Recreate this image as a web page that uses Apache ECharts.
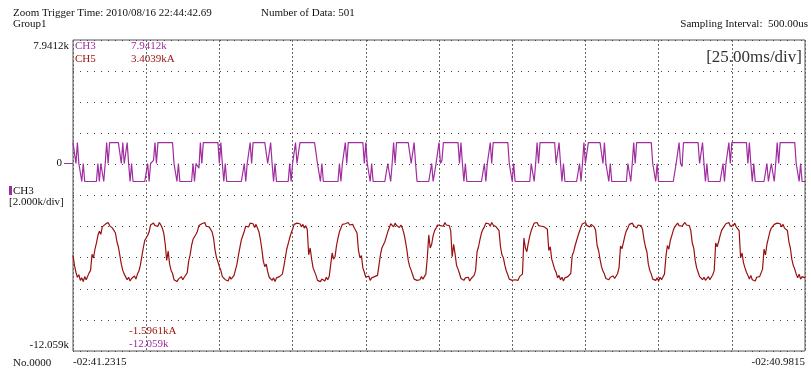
<!DOCTYPE html>
<html>
<head>
<meta charset="utf-8">
<script src="https://cdn.jsdelivr.net/npm/echarts@6/dist/echarts.min.js"></script>
<style>html,body{margin:0;padding:0;background:#fff}#c{width:811px;height:376px}</style>
</head>
<body>
<div id="c"></div>
<script>
// ---- data (k / kA units), 501 samples at 500us ----
const ch3 = [
 1.34,1.34, 0,1.34,0,0,-1.16,0, -1.16,-1.16,-1.16,-1.16,-1.16,-1.16,-1.16,-1.16,-1.16,0,-1.16, 0,0,-1.16,0,1.34,0,1.34,
 1.34,1.34,1.34,1.34,1.34,1.34,1.34,0,1.34, 0,0,1.34,0,-1.16,0, -1.16,-1.16,-1.16,-1.16,-1.16,-1.16,-1.16,-1.16,-1.16,-1.16, 0,-1.16,0,0,0.2,1.34,0,1.34,
 1.34,1.34,1.34,1.34,1.34,1.34,1.34,1.34,1.34, 1.34,0,0,-1.16,0,-1.16, -1.16,-1.16,-1.16,-1.16,-1.16,-1.16,-1.16,-1.16,0,-1.16, 0,0,-0.3,1.34,0,1.34,1.34,
 1.34,1.34,1.34,1.34,1.34,1.34,1.34,1.34,1.34, 0,1.34,0,-1.16,0,-1.16, -1.16,-1.16,-1.16,-1.16,-1.16,-1.16,-1.16,-1.16,-1.16,-1.16,-1.16, 0,-1.16,0,0,1.34,0,1.34,
 1.34,1.34,1.34,1.34,1.34,1.34,1.34,1.34,1.34, 0,0,1.34,0,-1.16,0, -1.16,-1.16,-1.16,-1.16,-1.16,-1.16,-1.16,-1.16,-1.16,0,-1.16, 0,0.1,1.34,0,0,1.34,1.34,
 1.34,1.34,1.34,1.34,1.34,1.34,1.34,1.34,1.34, 1.34,0,0,-1.16,0,-1.16, -1.16,-1.16,-1.16,-1.16,-1.16,-1.16,-1.16,-1.16,-1.16,-1.16, 0,-1.16,0,0,1.34,0,1.34,1.34,
 1.34,1.34,1.34,1.34,1.34,1.34,1.34,1.34,1.34, 0,1.34,0,0,-1.16,0, -1.16,-1.16,-1.16,-1.16,-1.16,-1.16,-1.16,-1.16,-1.16,-1.16, 0,0,-1.16,0,1.34,0,1.34,
 1.34,1.34,1.34,1.34,1.34,1.34,1.34,1.34,1.34, 0,0,1.34,0,-1.16,-1.16, -1.16,-1.16,-1.16,-1.16,-1.16,-1.16,-1.16,-1.16,0,-1.16,-1.16, 0,0,1.34,0,0.2,1.34,1.34,
 1.34,1.34,1.34,1.34,1.34,1.34,1.34,1.34,1.34, 0,1.34,0,-1.16,0,-1.16, -1.16,-1.16,-1.16,-1.16,-1.16,-1.16,-1.16,-1.16,-1.16,-1.16,-1.16, 0,-1.16,0,0,1.34,0,1.34,
 1.34,1.34,1.34,1.34,1.34,1.34,1.34,1.34,1.34, 1.34,0,0,-1.16,0,-1.16, -1.16,-1.16,-1.16,-1.16,-1.16,-1.16,-1.16,-1.16,-1.16,-1.16, 0,0,-1.16,0,1.34,0,1.34,1.34,
 1.34,1.34,1.34,1.34,1.34,1.34,1.34,1.34,1.34, 0,0,1.34,0,-1.16,0, -1.16,-1.16,-1.16,-1.16,-1.16,-1.16,-1.16,-1.16,-1.16,-1.16, 0,-1.16,0,1.34,0,0,1.34,
 1.34,1.34,1.34,1.34,1.34,1.34,1.34,1.34,1.34, 0,1.34,0,0,-1.16,0, -1.16,-1.16,-1.16,-1.16,-1.16,-1.16,-1.16,-1.16,-1.16,-1.16,-1.16, 0,0,-1.16,0,1.34,0,1.34,
 1.34,1.34,1.34,1.34,1.34,1.34,1.34,1.34,1.34, 1.34,0,0,-1.16,0,-1.16, -1.16,-1.16,-1.16,-1.16,-1.16,-1.16,-1.16,-1.16,-1.16,-1.16,-1.16, 0,0,1.34,0,-0.2,1.34,1.34,
 1.34,1.34,1.34,1.34,1.34,1.34,1.34,1.34,1.34, 0,0,1.34,0,-1.16,0, -1.16,-1.16,-1.16,-1.16,-1.16,-1.16,-1.16,-1.16,-1.16,-1.16, 0,-1.16,0,0,1.34,0,1.34,1.34,
 1.34,1.34,1.34,1.34,1.34,1.34,1.34,1.34,1.34, 0,1.34,0,-1.16,0,-1.16, -1.16,-1.16,-1.16,-1.16,-1.16,-1.16,-1.16,0,-1.16,-1.16, 0,0,-1.16,0,1.34,0,1.34,
 1.34,1.34,1.34,1.34,1.34,1.34,1.34,1.34,1.34, 1.34,0,0,-1.16,0,-1.16, -1.16,-1.16
];
const ch5 = [
 -0.06,-0.22, -0.33,-0.41,-0.37,-0.46,-0.42,-0.48,-0.40,-0.45,-0.43,-0.34, -0.30,-0.04,-0.10,0.04,0.14,0.26,0.33,
 0.28,0.40,0.37,0.44,0.41,0.47,0.42,0.45,0.38,0.40,0.30, 0.16,0.08,-0.06,-0.20,-0.30, -0.36,-0.37,-0.45,-0.41,-0.47,-0.43,-0.46,-0.39,-0.44,-0.36, -0.31,-0.22,-0.08,0.06,0.18,0.15,0.26,
 0.32,0.43,0.40,0.46,0.42,0.45,0.41,0.47,0.43,0.38,0.30, 0.12,-0.14,0.01,-0.20,-0.30, -0.35,-0.45,-0.42,-0.48,-0.44,-0.46,-0.40,-0.45,-0.41,-0.38, -0.34,-0.15,-0.05,0.10,0.20,0.17,0.28,
 0.33,0.42,0.39,0.45,0.43,0.47,0.41,0.44,0.40,0.42,0.32, 0.22,0.03,-0.09,-0.06,-0.24, -0.30,-0.40,-0.38,-0.45,-0.42,-0.47,-0.40,-0.44,-0.46,-0.38, -0.35,-0.20,-0.06,0.07,0.19,0.26,
 0.33,0.41,0.44,0.40,0.46,0.43,0.45,0.39,0.44,0.38,0.32, 0.20,0.04,-0.15,-0.24,-0.20, -0.32,-0.41,-0.38,-0.46,-0.42,-0.48,-0.42,-0.45,-0.40,-0.38, -0.36,-0.24,-0.10,0.04,0.13,0.22,0.30,
 0.36,0.44,0.41,0.46,0.43,0.45,0.40,0.44,0.38,0.42,0.36, -0.05,0.06,-0.12,-0.26,-0.32, -0.38,-0.46,-0.43,-0.48,-0.44,-0.42,-0.47,-0.41,-0.45,-0.40, -0.38,-0.02,-0.12,-0.08,0.10,0.22,0.32,
 0.38,0.44,0.41,0.45,0.42,0.47,0.43,0.40,0.44,0.39,0.36, 0.30,0.02,-0.10,-0.06,-0.26, -0.33,-0.41,-0.44,-0.39,-0.46,-0.42,-0.45,-0.40,-0.43,-0.38, -0.36,-0.05,0.06,0.04,0.16,0.24,0.32,
 0.38,0.45,0.43,0.40,0.46,0.42,0.44,0.39,0.43,0.38,0.30, 0.18,0.04,-0.14,-0.24,-0.30, -0.37,-0.44,-0.41,-0.46,-0.43,-0.45,-0.40,-0.44,-0.42,-0.36, -0.10,0.27,0.06,0.12,0.26,0.34,
 0.38,0.43,0.46,0.42,0.45,0.41,0.47,0.43,0.40,0.42,0.34, -0.08,0.12,-0.04,-0.22,-0.28, -0.35,-0.43,-0.40,-0.46,-0.42,-0.45,-0.41,-0.47,-0.43,-0.40, -0.38,-0.30,0.00,0.08,0.20,0.30,0.36,
 0.40,0.46,0.43,0.45,0.41,0.47,0.43,0.44,0.40,0.41,0.34, 0.08,-0.05,-0.10,-0.22,-0.31, -0.37,-0.44,-0.41,-0.46,-0.43,-0.45,-0.42,-0.46,-0.40,-0.40, -0.36,0.22,0.06,0.00,0.14,0.25,0.34,
 0.40,0.46,0.44,0.47,0.42,0.45,0.41,0.44,0.40,0.41,0.36, 0.02,0.08,-0.12,-0.20,-0.28, -0.33,-0.42,-0.38,-0.45,-0.41,-0.47,-0.42,-0.45,-0.40,-0.40, -0.35,-0.06,0.00,0.10,0.18,0.26,0.33,
 0.40,0.45,0.43,0.47,0.42,0.45,0.40,0.44,0.41,0.40,0.34, 0.10,0.02,-0.12,-0.24,-0.31, -0.36,-0.43,-0.40,-0.45,-0.41,-0.44,-0.39,-0.43,-0.41,-0.35, -0.25,0.09,0.05,0.15,0.26,0.34,
 0.38,0.44,0.41,0.46,0.42,0.45,0.38,0.43,0.41,0.42,0.36, 0.20,0.08,0.00,-0.20,-0.30, -0.36,-0.44,-0.41,-0.46,-0.42,-0.47,-0.41,-0.45,-0.42,-0.36, -0.08,0.10,0.04,0.18,0.26,0.34,0.40,
 0.42,0.46,0.42,0.45,0.41,0.44,0.47,0.43,0.40,0.42,0.34, 0.14,0.06,-0.14,-0.26,-0.33, -0.40,-0.38,-0.45,-0.41,-0.46,-0.43,-0.40,-0.45,-0.42,-0.37, -0.30,0.14,0.08,0.16,0.26,0.34,0.38,
 0.41,0.45,0.43,0.47,0.41,0.44,0.42,0.46,0.40,0.41,0.34, -0.10,-0.02,-0.18,-0.26,-0.33, -0.38,-0.44,-0.38,-0.45,-0.42,-0.47,-0.41,-0.44,-0.40,-0.40, -0.28,0.04,-0.05,0.12,0.22,0.32,0.38,
 0.38,0.44,0.41,0.46,0.43,0.45,0.40,0.44,0.38,0.41,0.34, 0.16,0.06,-0.12,-0.22,-0.28, -0.36,-0.42,-0.36,-0.44,-0.40,-0.37,-0.42
];
// axis ranges
const ch3Range = [-12.0588, 7.9412];   // k
const ch5Range = [-1.5961, 3.4039];    // kA
const timeLabels = ['-02:41.2315', '-02:40.9815'];
const ch3Ticks = ['7.9412k', '0', '-12.059k'];

const PURPLE = '#a02ca0', RED = '#9a1010';
const F = "11px 'Liberation Serif'";
const N = Math.max(ch3.length, ch5.length) - 1;

function txt(x, y, s, color, align, font) {
  return { type: 'text', x: x, y: y, silent: true,
    style: { text: s, fill: color || '#111', font: font || F,
      textAlign: align || 'left', align: align || 'left',
      textVerticalAlign: 'middle', verticalAlign: 'middle' } };
}

const chart = echarts.init(document.getElementById('c'), null, { renderer: 'canvas' });
chart.setOption({
  animation: false,
  backgroundColor: '#fff',
  grid: { left: 73, right: 6, top: 40, bottom: 25, show: true, borderColor: '#555', borderWidth: 1, backgroundColor: 'transparent' },
  xAxis: [
    { type: 'value', min: 0, max: N, axisLine: { show: false }, axisTick: { show: false }, splitLine: { show: false },
      axisLabel: { customValues: [0, N], margin: 6, color: '#111', fontFamily: 'Liberation Serif', fontSize: 11,
        alignMinLabel: 'left', alignMaxLabel: 'right',
        formatter: v => (v === 0 ? timeLabels[0] : timeLabels[1]) } },
    { type: 'value', min: 0, max: 10, interval: 1, position: 'top', axisLine: { show: false }, axisTick: { show: false },
      axisLabel: { show: false }, splitLine: { show: true, lineStyle: { color: '#666', width: 1, type: [2, 2] } } }
  ],
  yAxis: [
    { type: 'value', min: ch3Range[0], max: ch3Range[1], axisLine: { show: false }, splitLine: { show: false },
      axisTick: { show: true, customValues: [0], length: 9, lineStyle: { color: PURPLE } },
      axisLabel: { customValues: [0], margin: 11, color: '#111', fontFamily: 'Liberation Serif', fontSize: 11, formatter: () => ch3Ticks[1] } },
    { type: 'value', min: ch5Range[0], max: ch5Range[1], show: false, splitLine: { show: false } },
    { type: 'value', min: 0, max: 10, interval: 1, position: 'right', axisLine: { show: false }, axisTick: { show: false },
      axisLabel: { show: false }, splitLine: { show: true, lineStyle: { color: '#444', width: 1, type: [1, 6] } } }
  ],
  series: [
    { name: 'CH5', type: 'line', xAxisIndex: 0, yAxisIndex: 1, symbol: 'none', clip: true,
      lineStyle: { color: RED, width: 1.2 }, data: ch5.map((v, i) => [i, v]) },
    { name: 'CH3', type: 'line', xAxisIndex: 0, yAxisIndex: 0, symbol: 'none', clip: true,
      lineStyle: { color: PURPLE, width: 1.2 }, data: ch3.map((v, i) => [i, v]) }
  ],
  graphic: [
    txt(13, 13, 'Zoom Trigger Time: 2010/08/16 22:44:42.69'),
    txt(261, 13, 'Number of Data: 501'),
    txt(13, 24, 'Group1'),
    txt(808, 24, 'Sampling Interval:  500.00us', '#111', 'right'),
    txt(69, 46, ch3Ticks[0], '#111', 'right'),
    txt(69, 345, ch3Ticks[2], '#111', 'right'),
    txt(75, 46, 'CH3', PURPLE),
    txt(131, 46, '7.9412k', PURPLE),
    txt(75, 59, 'CH5', RED),
    txt(131, 59, '3.4039kA', RED),
    txt(802, 58, '[25.00ms/div]', '#333', 'right', "17px 'Liberation Serif'"),
    { type: 'rect', silent: true, shape: { x: 9, y: 186, width: 3, height: 9 }, style: { fill: PURPLE } },
    txt(13, 191, 'CH3'),
    txt(9, 202, '[2.000k/div]'),
    txt(129, 331, '-1.5961kA', RED),
    txt(129, 344, '-12.059k', PURPLE),
    txt(13, 363, 'No.0000')
  ]
});
</script>
</body>
</html>
